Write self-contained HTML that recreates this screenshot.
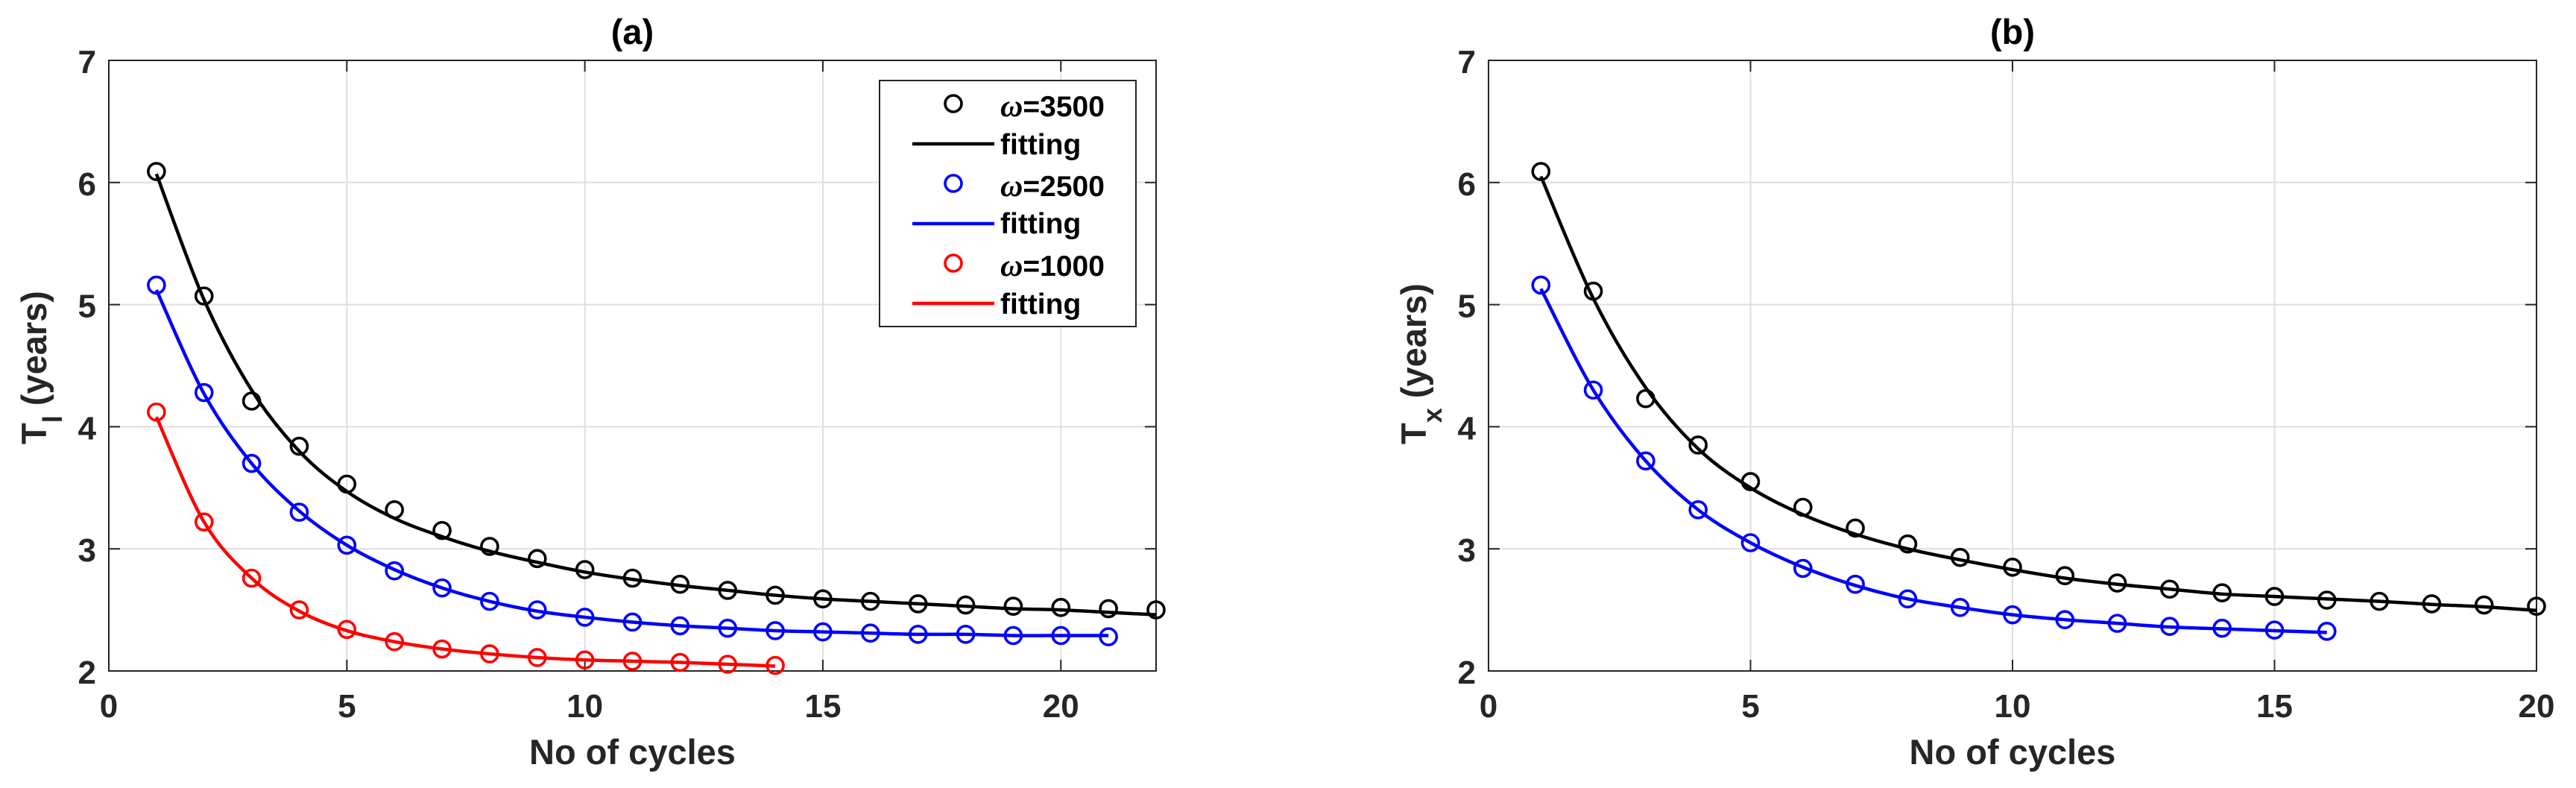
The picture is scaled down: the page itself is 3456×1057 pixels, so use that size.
<!DOCTYPE html>
<html lang="en">
<head>
<meta charset="utf-8">
<title>Cycle time charts</title>
<style>
html,body{margin:0;padding:0;background:#fff;}
#figure{display:block;width:3456px;height:1057px;font-family:"Liberation Sans",Arial,sans-serif;font-weight:bold;}
</style>
</head>
<body>
<svg id="figure" xmlns="http://www.w3.org/2000/svg" width="3456" height="1057" viewBox="0 0 3456 1057"></svg>
<script>
const xTicksA = [0, 5, 10, 15, 20];
const xTicksB = [0, 5, 10, 15, 20];
const yTicks = [2, 3, 4, 5, 6, 7];
const xMaxA = 22;
const xMaxB = 20;
const yMin = 2;
const yMax = 7;

const aBlackPoints = [6.09, 5.07, 4.21, 3.84, 3.53, 3.32, 3.15, 3.02, 2.92, 2.83, 2.76, 2.71, 2.66, 2.62, 2.59, 2.57, 2.55, 2.54, 2.53, 2.52, 2.51, 2.50];
const aBlackFit = [6.07, 5.04, 4.30, 3.80, 3.47, 3.25, 3.10, 2.98, 2.89, 2.81, 2.75, 2.70, 2.66, 2.62, 2.59, 2.57, 2.55, 2.53, 2.51, 2.50, 2.48, 2.46];
const aBluePoints = [5.16, 4.28, 3.70, 3.30, 3.03, 2.82, 2.68, 2.57, 2.50, 2.44, 2.40, 2.37, 2.35, 2.33, 2.32, 2.31, 2.30, 2.30, 2.29, 2.29, 2.28];
const aBlueFit = [5.12, 4.27, 3.70, 3.31, 3.03, 2.83, 2.68, 2.57, 2.49, 2.44, 2.40, 2.37, 2.35, 2.33, 2.32, 2.31, 2.30, 2.30, 2.29, 2.29, 2.29];
const aRedPoints = [4.12, 3.22, 2.76, 2.50, 2.34, 2.24, 2.18, 2.14, 2.11, 2.09, 2.08, 2.07, 2.055, 2.045];
const aRedFit = [4.08, 3.22, 2.76, 2.49, 2.33, 2.24, 2.18, 2.14, 2.11, 2.09, 2.08, 2.07, 2.055, 2.04];

const bBlackPoints = [6.09, 5.11, 4.23, 3.85, 3.55, 3.34, 3.17, 3.04, 2.93, 2.85, 2.78, 2.72, 2.67, 2.64, 2.61, 2.58, 2.57, 2.55, 2.54, 2.53];
const bBlackFit = [6.05, 5.05, 4.32, 3.82, 3.50, 3.28, 3.12, 3.00, 2.91, 2.83, 2.76, 2.71, 2.67, 2.63, 2.61, 2.59, 2.57, 2.545, 2.525, 2.495];
const bBluePoints = [5.16, 4.30, 3.72, 3.32, 3.05, 2.84, 2.71, 2.59, 2.52, 2.46, 2.42, 2.39, 2.365, 2.35, 2.335, 2.325];
const bBlueFit = [5.13, 4.30, 3.72, 3.32, 3.05, 2.85, 2.70, 2.59, 2.52, 2.46, 2.42, 2.39, 2.36, 2.345, 2.33, 2.315];

const legendLabels = ["3500", "2500", "1000"];
const legendFitLabel = "fitting";

const NS = "http://www.w3.org/2000/svg";
const svg = document.getElementById("figure");

function make(tag, parent, props) {
  const el = document.createElementNS(NS, tag);
  for (const k in props) el.setAttribute(k, props[k]);
  parent.appendChild(el);
  return el;
}

function smoothPath(pts) {
  let d = "M" + pts[0][0].toFixed(2) + " " + pts[0][1].toFixed(2);
  for (let i = 0; i < pts.length - 1; i++) {
    const p0 = pts[Math.max(i - 1, 0)];
    const p1 = pts[i];
    const p2 = pts[i + 1];
    const p3 = pts[Math.min(i + 2, pts.length - 1)];
    const c1x = p1[0] + (p2[0] - p0[0]) / 6;
    const c1y = p1[1] + (p2[1] - p0[1]) / 6;
    const c2x = p2[0] - (p3[0] - p1[0]) / 6;
    const c2y = p2[1] - (p3[1] - p1[1]) / 6;
    d += "C" + c1x.toFixed(2) + " " + c1y.toFixed(2) + " " + c2x.toFixed(2) + " " + c2y.toFixed(2) + " " + p2[0].toFixed(2) + " " + p2[1].toFixed(2);
  }
  return d;
}

function drawPanel(cfg) {
  const L = cfg.left, R = cfg.right, T = 81, B = 900;
  const sx = v => L + (R - L) * v / cfg.xMax;
  const sy = v => B - (B - T) * (v - yMin) / (yMax - yMin);

  const g = make("g", svg, {});
  
  

  cfg.xTicks.forEach(v => {
    const line = make("line", g, {x1: sx(v), x2: sx(v), y1: T, y2: B, stroke: "#dfdfdf", "stroke-width": 2});
    
    
  });
  yTicks.forEach(v => {
    const line = make("line", g, {x1: L, x2: R, y1: sy(v), y2: sy(v), stroke: "#dfdfdf", "stroke-width": 2});
    
    
  });

  cfg.xTicks.forEach(v => {
    const t1 = make("line", g, {x1: sx(v), x2: sx(v), y1: B, y2: B - 15, stroke: "#262626", "stroke-width": 2});
    
    
    const t2 = make("line", g, {x1: sx(v), x2: sx(v), y1: T, y2: T + 15, stroke: "#262626", "stroke-width": 2});
    
    
    const lab = make("text", g, {x: sx(v), y: 962, "text-anchor": "middle", "font-size": 44, fill: "#262626"});
    
    
    lab.textContent = v;
  });
  yTicks.forEach(v => {
    const t1 = make("line", g, {x1: L, x2: L + 15, y1: sy(v), y2: sy(v), stroke: "#262626", "stroke-width": 2});
    
    
    const t2 = make("line", g, {x1: R, x2: R - 15, y1: sy(v), y2: sy(v), stroke: "#262626", "stroke-width": 2});
    
    
    const lab = make("text", g, {x: L - 17, y: sy(v) + 17, "text-anchor": "end", "font-size": 44, fill: "#262626"});
    
    
    lab.textContent = v;
  });

  const box = make("rect", g, {x: L, y: T, width: R - L, height: B - T, fill: "none", stroke: "#262626", "stroke-width": 2});
  
  

  cfg.series.forEach(s => {
    const pts = s.fit.map((v, i) => [sx(i + 1), sy(v)]);
    const path = make("path", g, {d: smoothPath(pts), fill: "none", stroke: s.color, "stroke-width": 4.5, "stroke-linejoin": "round"});
    
    
    s.points.forEach((v, i) => {
      const c = make("circle", g, {cx: sx(i + 1), cy: sy(v), r: 11, fill: "none", stroke: s.color, "stroke-width": 3.6});
      
      
    });
  });

  const cx = (L + R) / 2;
  const title = make("text", g, {x: cx, y: 59, "text-anchor": "middle", "font-size": 47, fill: "#000"});
  
  
  title.textContent = cfg.title;

  const xl = make("text", g, {x: cx, y: 1025, "text-anchor": "middle", "font-size": 47, fill: "#262626"});
  
  
  xl.textContent = "No of cycles";

  const yl = make("text", g, {transform: "translate(" + (L - 84) + " 596) rotate(-90)", "font-size": 47, fill: "#262626"});
  
  
  const t0 = make("tspan", yl, {});
  t0.textContent = "T";
  const t1 = make("tspan", yl, {dy: 21, "font-size": 36});
  t1.textContent = cfg.sub;
  const t2 = make("tspan", yl, {dy: -21});
  t2.textContent = " (years)";
}

drawPanel({
  name: "panel-a", left: 146, right: 1551, xMax: xMaxA, xTicks: xTicksA, title: "(a)", sub: "l",
  series: [
    {id: "omega-3500", color: "#000000", points: aBlackPoints, fit: aBlackFit},
    {id: "omega-2500", color: "#0000ff", points: aBluePoints, fit: aBlueFit},
    {id: "omega-1000", color: "#ff0000", points: aRedPoints, fit: aRedFit}
  ]
});

drawPanel({
  name: "panel-b", left: 1997, right: 3403, xMax: xMaxB, xTicks: xTicksB, title: "(b)", sub: "x",
  series: [
    {id: "omega-3500", color: "#000000", points: bBlackPoints, fit: bBlackFit},
    {id: "omega-2500", color: "#0000ff", points: bBluePoints, fit: bBlueFit}
  ]
});

const legend = make("g", svg, {});


const legendBox = make("rect", legend, {x: 1180, y: 108, width: 344, height: 330, fill: "#fff", stroke: "#262626", "stroke-width": 2});



const legendColors = ["#000000", "#0000ff", "#ff0000"];
legendLabels.forEach((label, i) => {
  const off = i * 107;
  const marker = make("circle", legend, {cx: 1279, cy: 139 + off, r: 11, fill: "none", stroke: legendColors[i], "stroke-width": 3.6});
  
  
  const text = make("text", legend, {x: 1342, y: 156 + off, "font-size": 39, fill: "#000"});
  
  
  const omega = make("tspan", text, {"font-family": "'Liberation Serif','DejaVu Serif',serif", "font-style": "italic", "font-size": 42});
  omega.textContent = "\u03c9";
  const rest = make("tspan", text, {});
  rest.textContent = "=" + label;
  const line = make("line", legend, {x1: 1224, x2: 1334, y1: 193 + off, y2: 193 + off, stroke: legendColors[i], "stroke-width": 4.5});
  
  
  const fit = make("text", legend, {x: 1342, y: 207 + off - (i === 1 ? 1 : 0), "font-size": 39, fill: "#000"});
  
  
  fit.textContent = legendFitLabel;
});
</script>
</body>
</html>
